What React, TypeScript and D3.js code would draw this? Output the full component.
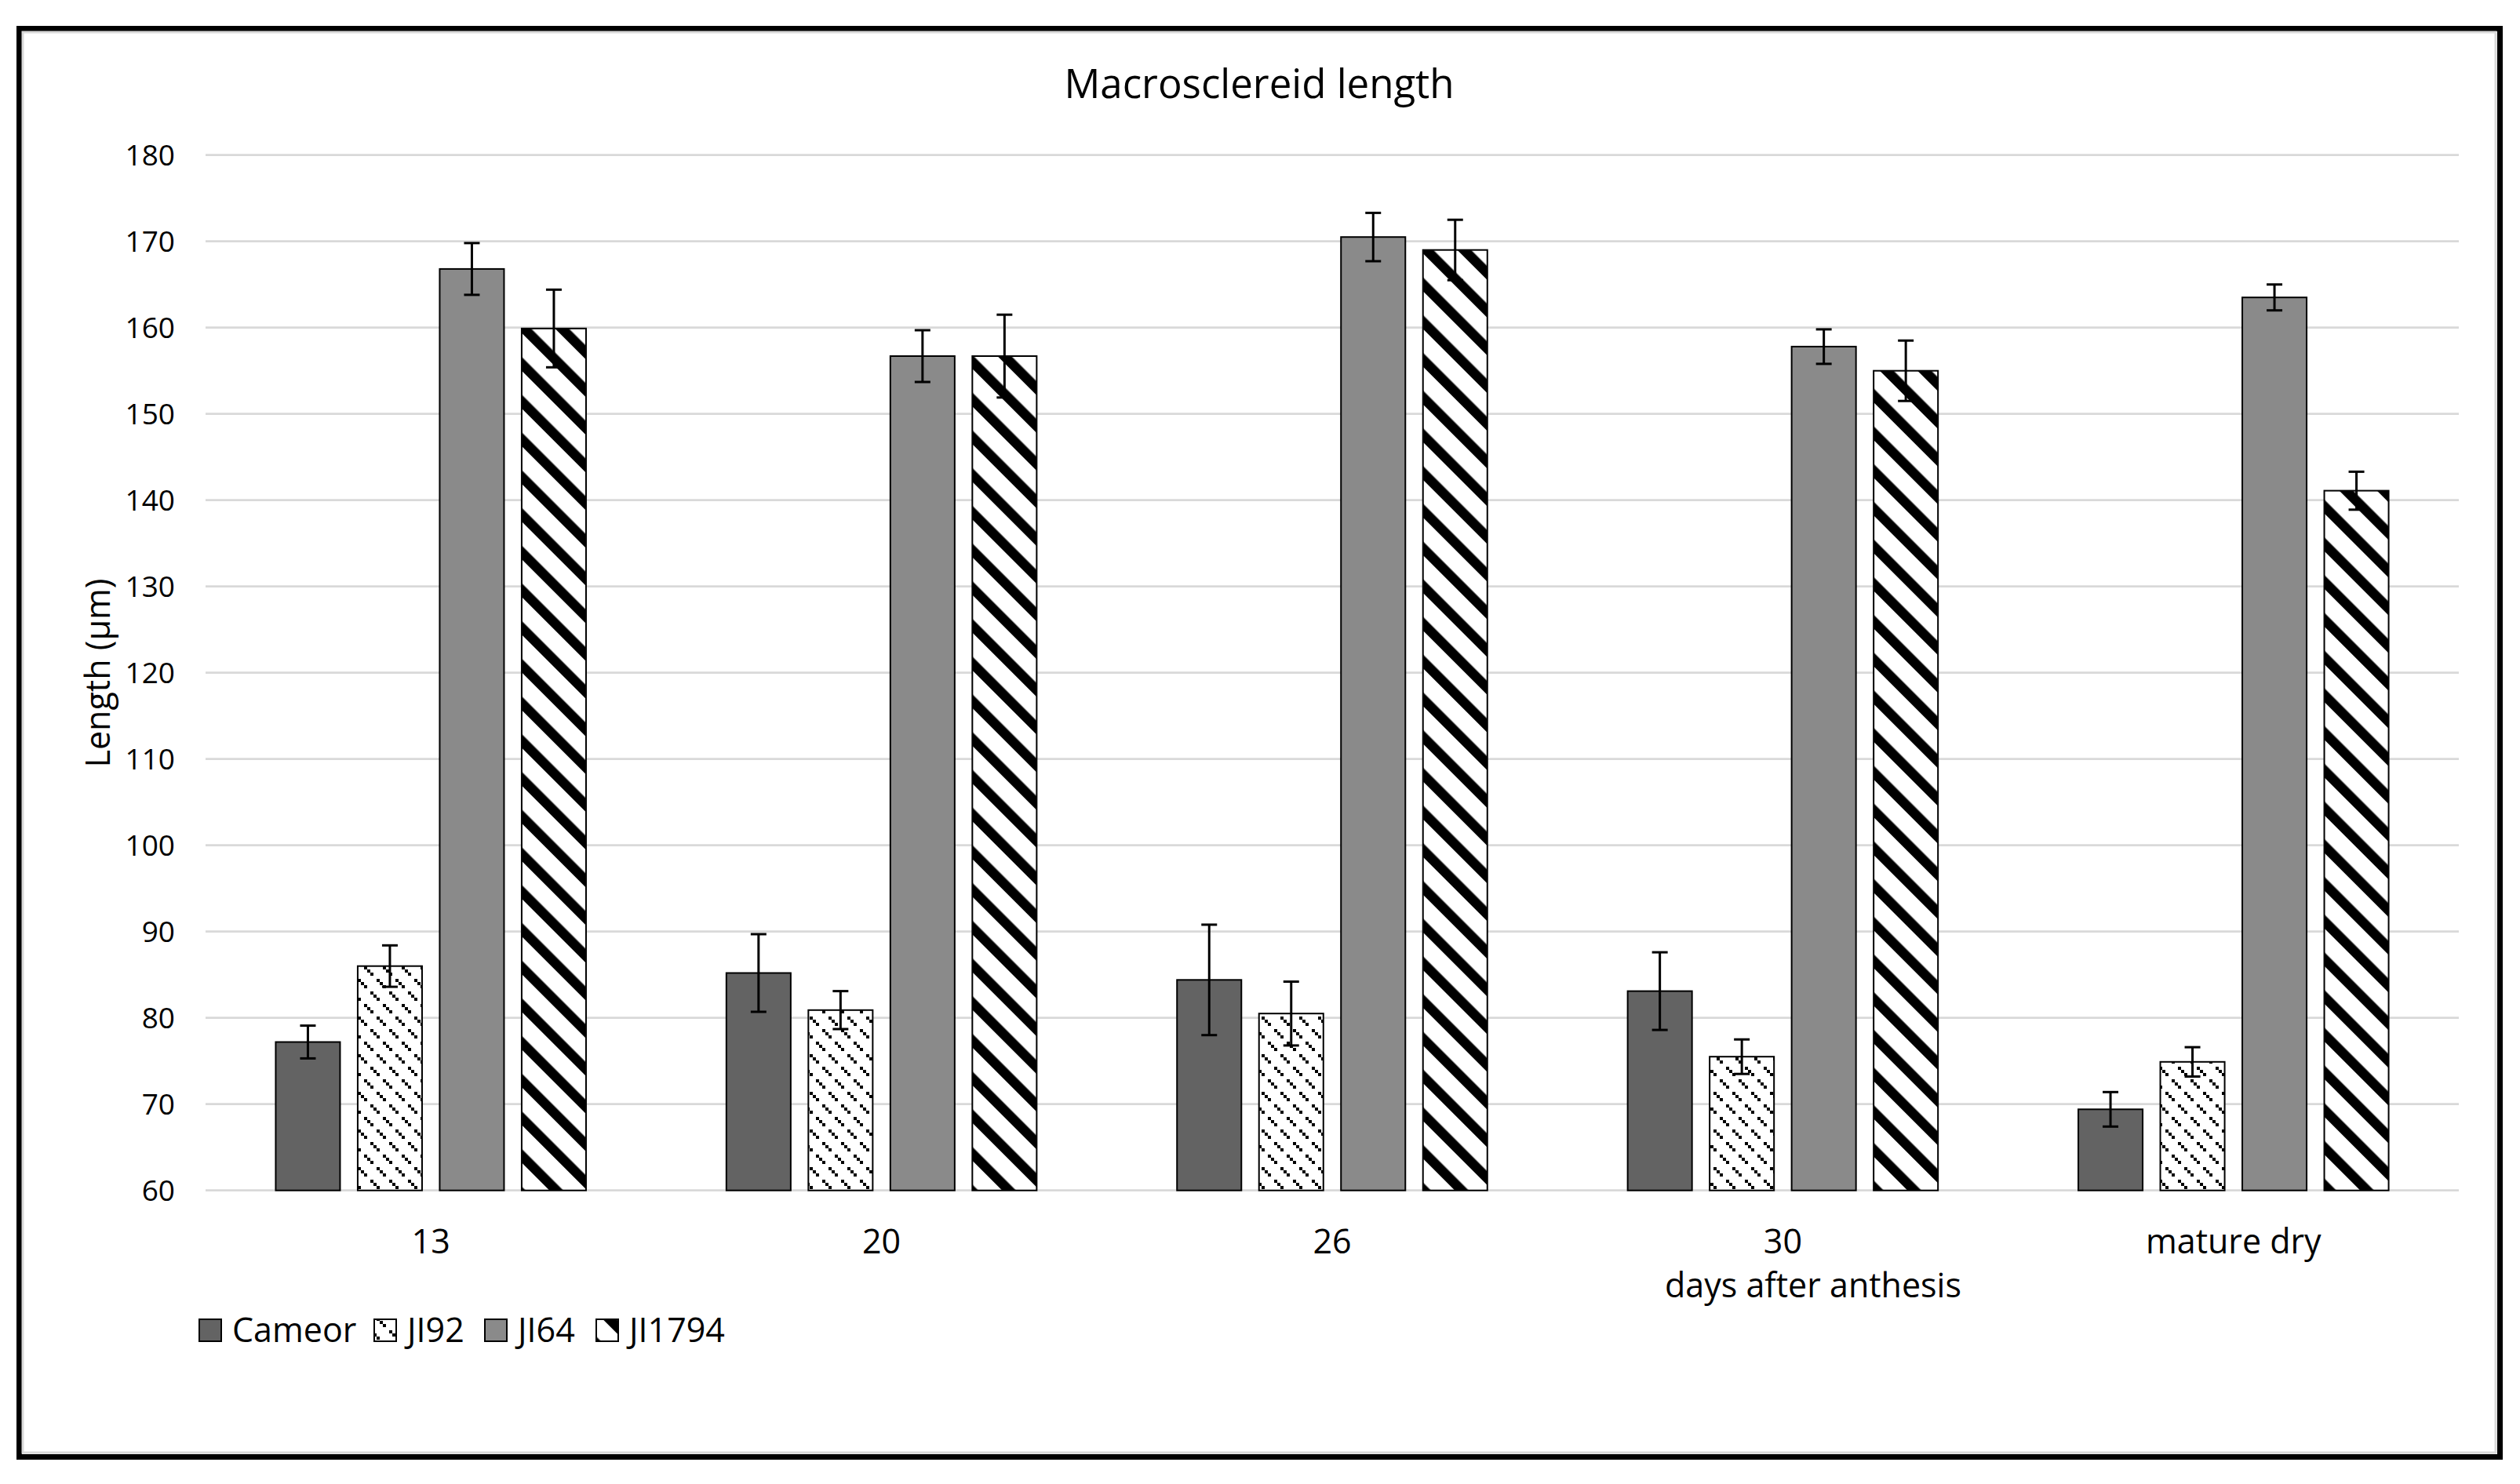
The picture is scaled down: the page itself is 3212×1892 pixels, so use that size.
import React from 'react';
import * as d3 from 'd3';

const categories = ['13', '20', '26', '30', 'mature dry'];
const seriesNames = ['Cameor', 'JI92', 'JI64', 'JI1794'];
const cameor = [77.2, 85.2, 84.4, 83.1, 69.4];
const cameorErr = [1.9, 4.5, 6.4, 4.5, 2.0];
const ji92 = [86.0, 80.9, 80.5, 75.5, 74.9];
const ji92Err = [2.4, 2.2, 3.7, 2.0, 1.7];
const ji64 = [166.8, 156.7, 170.5, 157.8, 163.5];
const ji64Err = [3.0, 3.0, 2.8, 2.0, 1.5];
const ji1794 = [159.9, 156.7, 169.0, 155.0, 141.1];
const ji1794Err = [4.5, 4.8, 3.5, 3.5, 2.2];
const yTicks = [60, 70, 80, 90, 100, 110, 120, 130, 140, 150, 160, 170, 180];
const title = 'Macrosclereid length';
const yTitle = 'Length (µm)';
const xTitle = 'days after anthesis';

const seriesValues = [cameor, ji92, ji64, ji1794];
const seriesErrors = [cameorErr, ji92Err, ji64Err, ji1794Err];
const fills = ['#636363', 'url(#pat-ji92)', '#8a8a8a', 'url(#pat-ji1794)'];

const W = 3212;
const H = 1892;
const FONT = '"Open Sans", "Noto Sans", sans-serif';

// dashed downward-diagonal pattern: lattice (S,0),(P,P), tile T x T
function dashedDiagSquares() {
  const T = 48;
  const P = 16;
  const S = 24;
  const s = 4;
  const uniq = new Map<string, { x: number; y: number }>();
  for (let k = 0; k < T / P; k++) {
    for (let n = -T / S - 1; n <= T / S + 1; n++) {
      for (const d of [0, 4, 8]) {
        const px = (((P * k + S * n + d) % T) + T) % T;
        const py = (((P * k + d) % T) + T) % T;
        uniq.set(px + ',' + py, { x: px, y: py });
      }
    }
  }
  return { T, s, pts: Array.from(uniq.values()) };
}

export default function App() {
  const x = d3.scaleBand<string>().domain(categories).range([262, 3134]).paddingInner(0).paddingOuter(0);
  const y = d3.scaleLinear().domain([60, 180]).range([1517.7, 197.7]);
  const groupW = 418;
  const inner = d3
    .scaleBand<string>()
    .domain(seriesNames)
    .range([0, groupW])
    .paddingInner(0.215)
    .paddingOuter(0.1075);

  const legendX = [254, 477, 618, 760];
  const dd = dashedDiagSquares();

  return (
    <svg
      width={W}
      height={H}
      viewBox={`0 0 ${W} ${H}`}
      style={{ position: 'absolute', left: 0, top: 0, background: '#fff', fontFamily: FONT }}
    >
      <defs>
        <pattern id="pat-ji92" patternUnits="userSpaceOnUse" width={dd.T} height={dd.T}>
          <rect x={0} y={0} width={dd.T} height={dd.T} fill="#fff" />
          {dd.pts.map((p, i) => (
            <rect key={i} x={p.x} y={p.y} width={dd.s} height={dd.s} fill="#000" />
          ))}
        </pattern>
        <pattern
          id="pat-ji1794"
          patternUnits="userSpaceOnUse"
          width={34}
          height={34}
          patternTransform="rotate(-45)"
        >
          <rect x={0} y={0} width={34} height={34} fill="#fff" />
          <rect x={0} y={0} width={12.5} height={34} fill="#000" />
        </pattern>
      </defs>

      <rect x={0} y={0} width={W} height={H} fill="#fff" />
      {/* outer frame */}
      <rect x={24.5} y={36.5} width={3162} height={1821} fill="none" stroke="#000" strokeWidth={7} />
      <rect x={29} y={41} width={3152} height={1811} fill="none" stroke="#d9d9d9" strokeWidth={3} />

      {/* title */}
      <text x={1605} y={125} textAnchor="middle" fontSize={51} fill="#000">
        {title}
      </text>

      {/* gridlines */}
      {yTicks.map((t) => (
        <line key={'g' + t} x1={262} x2={3134} y1={y(t)} y2={y(t)} stroke="#d9d9d9" strokeWidth={2.7} />
      ))}
      {/* y tick labels */}
      {yTicks.map((t) => (
        <text key={'t' + t} x={223} y={y(t) + 13.5} textAnchor="end" fontSize={37} fill="#000">
          {t}
        </text>
      ))}
      {/* y title */}
      <text transform={`translate(140, 858) rotate(-90)`} textAnchor="middle" fontSize={43} fill="#000">
        {yTitle}
      </text>

      {/* bars */}
      {categories.map((c, ci) => {
        const gx = (x(c) as number) + x.bandwidth() / 2 - groupW / 2;
        return (
          <g key={c}>
            {seriesNames.map((s, si) => {
              const v = seriesValues[si][ci];
              const e = seriesErrors[si][ci];
              const bx = gx + (inner(s) as number);
              const bw = inner.bandwidth();
              const cx = bx + bw / 2;
              return (
                <g key={s}>
                  <rect
                    x={bx}
                    y={y(v)}
                    width={bw}
                    height={y(60) - y(v)}
                    fill={fills[si]}
                    stroke="#000"
                    strokeWidth={2}
                  />
                  <line x1={cx} x2={cx} y1={y(v + e)} y2={y(v - e)} stroke="#000" strokeWidth={3} />
                  <line x1={cx - 10} x2={cx + 10} y1={y(v + e)} y2={y(v + e)} stroke="#000" strokeWidth={3} />
                  <line x1={cx - 10} x2={cx + 10} y1={y(v - e)} y2={y(v - e)} stroke="#000" strokeWidth={3} />
                </g>
              );
            })}
          </g>
        );
      })}

      {/* x labels */}
      {categories.map((c) => (
        <text
          key={'x' + c}
          x={(x(c) as number) + x.bandwidth() / 2}
          y={1598}
          textAnchor="middle"
          fontSize={43}
          fill="#000"
        >
          {c}
        </text>
      ))}
      <text x={2311} y={1654} textAnchor="middle" fontSize={43} fill="#000">
        {xTitle}
      </text>

      {/* legend */}
      {seriesNames.map((s, si) => (
        <g key={'l' + s}>
          <rect x={legendX[si]} y={1682} width={28} height={28} fill={fills[si]} stroke="#000" strokeWidth={2} />
          <text x={legendX[si] + 42} y={1711} fontSize={43} fill="#000">
            {s}
          </text>
        </g>
      ))}
    </svg>
  );
}
